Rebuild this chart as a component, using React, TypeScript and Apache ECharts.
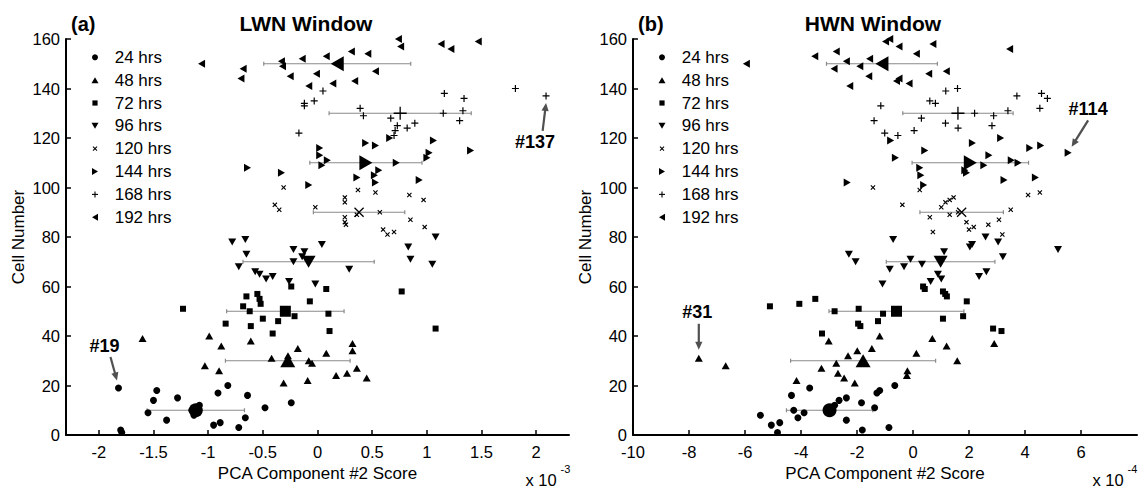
import React, { useEffect, useRef } from "react";
import * as echarts from "echarts";

// Time points; each group holds 20 consecutive cells (1-20, 21-40, ... 141-160)
const groupNames = ["24 hrs", "48 hrs", "72 hrs", "96 hrs", "120 hrs", "144 hrs", "168 hrs", "192 hrs"];
const cellsPerGroup = 20;

// LWN window: PCA component #2 score (x 10^-3), listed by cell number within each group
const lwn24 = [-1.79, -1.8, -0.72, -0.95, -0.89, -1.38, -0.66, -1.13, -1.55, -1.15, -0.48, -1.08, -0.24, -1.5, -1.28, -0.64, -0.91, -1.47, -1.82, -0.82];
const lwn48 = [-0.31, -0.09, 0.45, 0.17, 0.27, -0.9, 0.36, -1.03, -0.05, -0.08, -0.42, -0.27, 0.08, 0.32, -0.18, -0.88, 0.32, -0.61, -1.6, -0.99];
const lwn72 = [-0.41, 0.11, 1.08, -0.61, -0.84, -0.36, -0.5, -0.21, 0.1, -0.62, -1.23, -0.68, -0.52, -0.07, -0.53, -0.65, -0.55, 0.77, 0.08, -0.24];
const lwn96 = [-0.02, -0.26, -0.47, -0.41, -0.53, -0.57, 0.29, -0.72, 1.05, -0.22, 0.85, -0.14, -0.65, -0.12, -0.22, 0.83, 0.04, -0.78, -0.66, 1.08];
const lwn120 = [0.64, 0.7, 0.6, 0.98, 0.26, 0.25, 0.85, 0.25, 0.36, 0.57, -0.35, -0.02, -0.39, 0.25, 0.97, 0.25, 0.84, 0.53, 0.37, -0.31];
const lwn144 = [-0.08, 0.53, 0.93, 0.36, 0.52, -0.33, 0.56, -0.64, 0.04, 0.72, 0.09, 1.0, 0.02, 1.02, 1.4, 0.02, 0.53, 0.44, 1.06, 0.66];
const lwn168 = [0.7, -0.17, 0.71, 0.82, 0.73, 0.89, 1.3, 0.67, 0.42, 1.15, 1.33, 0.39, -0.12, -0.12, -0.03, 1.34, 2.09, 1.16, 0.05, 1.81];
const lwn192 = [-0.08, 0.14, 0.34, -0.7, -0.25, -0.01, 0.53, -0.68, -0.32, -1.06, -0.33, -0.14, 0.08, 0.46, 0.31, 1.22, 0.76, 1.13, 1.47, 0.74];
// Half-width of the horizontal bar around each group mean
const lwnSpread = [0.445, 0.57, 0.537, 0.6, 0.418, 0.513, 0.65, 0.672];

// HWN window: PCA component #2 score (x 10^-4)
const hwn24 = [-4.84, -1.81, -0.86, -5.06, -4.76, -2.38, -4.11, -5.45, -3.89, -4.26, -1.37, -2.8, -1.84, -2.64, -2.38, -4.34, -1.29, -1.19, -3.69, -0.65];
const hwn48 = [-2.08, -4.16, -2.46, -0.22, -2.68, -0.2, -3.27, -6.69, -2.74, 1.58, -7.65, -2.32, 0.12, -1.99, -1.47, 1.2, 2.9, -3.01, 0.69, -1.19];
const hwn72 = [-3.25, 3.16, 2.86, -1.88, -1.96, -1.25, 1.07, 1.79, -1.07, -2.8, -1.94, -5.11, -4.06, 1.92, -3.49, 1.21, 1.15, 1.07, 0.42, 0.36];
const hwn96 = [-1.09, 0.63, 1.01, 2.36, 0.89, 2.62, -0.83, -0.32, 0.32, -2.05, -0.09, 3.21, -2.29, 1.11, 5.18, 2.03, 2.11, 3.04, -0.71, 2.59];
const hwn120 = [3.19, 0.71, 2.0, 2.17, 2.69, 1.91, 3.07, 0.6, 1.31, 1.61, 3.49, 1.01, -0.38, 1.16, 1.31, 1.45, 4.11, 4.53, 0.24, -1.43];
const hwn144 = [0.38, -2.35, 3.25, 4.37, 0.28, 1.91, 1.85, 0.24, 2.53, 3.75, 3.51, -0.63, 2.71, 5.54, 0.42, 4.17, 4.56, 2.12, -0.8, 3.13];
const hwn168 = [-0.54, -1.01, 0.04, 1.61, 2.82, 1.16, -1.39, 0.3, 2.88, 2.2, 3.39, 4.53, -1.15, 0.8, 0.6, 4.8, 3.71, 4.59, 1.17, 1.59];
const hwn192 = [-2.26, -0.14, -0.59, -0.5, -1.58, 0.56, 1.19, -2.82, -1.9, -5.95, -2.38, -1.55, -3.51, 0.12, -2.74, 3.45, -0.5, 0.71, -0.98, -0.83];
const hwnSpread = [1.54, 2.59, 2.41, 1.94, 1.49, 2.08, 1.97, 1.98];

const lwnTicks = [-2, -1.5, -1, -0.5, 0, 0.5, 1, 1.5, 2];
const hwnTicks = [-10, -8, -6, -4, -2, 0, 2, 4, 6];
const cellTicks = [0, 20, 40, 60, 80, 100, 120, 140, 160];

// Highlighted outlier cells
const lwnNotes = [19, 137];
const hwnNotes = [31, 114];

const FONT = '"Liberation Sans", Arial, Helvetica, sans-serif';
const INK = "#000";

const plusPath = (t: number) => {
  const a = 0.5 - t / 2;
  const b = 0.5 + t / 2;
  return `path://M${a},0H${b}V${a}H1V${b}H${b}V1H${a}V${b}H0V${a}H${a}Z`;
};
const crossPath = (d: number) =>
  `path://M0,${d}L${d},0L0.5,${0.5 - d}L${1 - d},0L1,${d}L${0.5 + d},0.5L1,${1 - d}L${1 - d},1L0.5,${0.5 + d}L${d},1L0,${1 - d}L${0.5 - d},0.5Z`;
const downTri = "path://M0,0L2,0L1,1.8Z";
const rightTri = "path://M0,0L1.8,1L0,2Z";
const leftTri = "path://M1.8,0L0,1L1.8,2Z";

const markers: { symbol: string; size: any; meanSymbol: string; meanSize: any }[] = [
  { symbol: "circle", size: 7, meanSymbol: "circle", meanSize: 14 },
  { symbol: "triangle", size: [8, 7], meanSymbol: "triangle", meanSize: [15, 13] },
  { symbol: "rect", size: 6, meanSymbol: "rect", meanSize: 11 },
  { symbol: downTri, size: [8, 7], meanSymbol: downTri, meanSize: [14, 12] },
  { symbol: crossPath(0.16), size: 5, meanSymbol: crossPath(0.09), meanSize: 10 },
  { symbol: rightTri, size: [7, 8], meanSymbol: rightTri, meanSize: [13, 15] },
  { symbol: plusPath(0.17), size: 7, meanSymbol: plusPath(0.1), meanSize: 13 },
  { symbol: leftTri, size: [7, 8], meanSymbol: leftTri, meanSize: [13, 15] },
];

const panels = [
  {
    tag: "(a)",
    title: "LWN Window",
    groups: [lwn24, lwn48, lwn72, lwn96, lwn120, lwn144, lwn168, lwn192],
    spread: lwnSpread,
    min: -2.3,
    max: 2.3,
    ticks: lwnTicks,
    exponent: "-3",
    notes: lwnNotes,
  },
  {
    tag: "(b)",
    title: "HWN Window",
    groups: [hwn24, hwn48, hwn72, hwn96, hwn120, hwn144, hwn168, hwn192],
    spread: hwnSpread,
    min: -10,
    max: 8,
    ticks: hwnTicks,
    exponent: "-4",
    notes: hwnNotes,
  },
];

const gridRects = [
  { left: 66, top: 39, width: 503, height: 396 },
  { left: 633, top: 39, width: 504, height: 396 },
];

// Label / arrow placement relative to the highlighted point, per panel
const noteLayout: Record<number, { label: [number, number]; from: [number, number]; to: [number, number] }> = {
  19: { label: [-14, -42], from: [-8, -31], to: [-1.5, -7.5] },
  137: { label: [-11, 46], from: [-3.4, 35], to: [0, 7] },
  31: { label: [-1.5, -46], from: [0, -34.5], to: [0, -8.5] },
  114: { label: [20, -44], from: [20, -32.5], to: [3.5, -6] },
};

const mean = (a: number[]) => a.reduce((s, v) => s + v, 0) / a.length;
const cellOf = (g: number, i: number) => g * cellsPerGroup + i + 1;
const centerCell = (g: number) => g * cellsPerGroup + cellsPerGroup / 2;

const errorBarItem = (_params: any, api: any) => {
  const m = api.value(0);
  const c = api.value(1);
  const s = api.value(2);
  const a = api.coord([m - s, c]);
  const b = api.coord([m + s, c]);
  const st = { stroke: "#8a8a8a", lineWidth: 1.2 };
  return {
    type: "group",
    children: [
      { type: "line", shape: { x1: a[0], y1: a[1], x2: b[0], y2: b[1] }, style: st },
      { type: "line", shape: { x1: a[0], y1: a[1] - 2, x2: a[0], y2: a[1] + 2 }, style: st },
      { type: "line", shape: { x1: b[0], y1: b[1] - 2, x2: b[0], y2: b[1] + 2 }, style: st },
    ],
  };
};

function buildOption() {
  const series: any[] = [];
  panels.forEach((p, pi) => {
    series.push({
      type: "custom",
      xAxisIndex: pi,
      yAxisIndex: pi,
      silent: true,
      z: 2,
      renderItem: errorBarItem,
      encode: { x: 0, y: 1 },
      data: p.groups.map((vals, g) => [mean(vals), centerCell(g), p.spread[g]]),
    });
    p.groups.forEach((vals, g) => {
      const mk = markers[g];
      series.push({
        type: "scatter",
        name: groupNames[g],
        xAxisIndex: pi,
        yAxisIndex: pi,
        symbol: mk.symbol,
        symbolSize: mk.size,
        itemStyle: { color: INK, opacity: 1 },
        z: 3,
        data: vals.map((v, i) => [v, cellOf(g, i)]),
      });
      series.push({
        type: "scatter",
        name: groupNames[g] + " mean",
        xAxisIndex: pi,
        yAxisIndex: pi,
        symbol: mk.meanSymbol,
        symbolSize: mk.meanSize,
        itemStyle: { color: INK, opacity: 1 },
        z: 4,
        data: [[mean(vals), centerCell(g)]],
      });
    });
  });

  return {
    animation: false,
    backgroundColor: "#fff",
    textStyle: { fontFamily: FONT, color: INK },
    grid: gridRects.map((r) => ({ ...r, containLabel: false })),
    xAxis: panels.map((p, pi) => ({
      type: "value",
      gridIndex: pi,
      min: p.min,
      max: p.max,
      name: "PCA Component #2 Score",
      nameLocation: "middle",
      nameGap: 29,
      nameTextStyle: { fontSize: 17, color: INK, fontFamily: FONT },
      axisLine: { show: true, onZero: false, lineStyle: { color: INK, width: 2 } },
      axisTick: { show: true, inside: true, length: 5, customValues: p.ticks, lineStyle: { color: INK, width: 1.5 } },
      axisLabel: { customValues: p.ticks, fontSize: 16.5, color: INK, margin: 8, fontFamily: FONT },
      splitLine: { show: false },
    })),
    yAxis: panels.map((_p, pi) => ({
      type: "value",
      gridIndex: pi,
      min: 0,
      max: 160,
      name: "Cell Number",
      nameLocation: "middle",
      nameGap: 39,
      nameTextStyle: { fontSize: 17, color: INK, fontFamily: FONT },
      axisLine: { show: true, onZero: false, lineStyle: { color: INK, width: 2 } },
      axisTick: { show: true, inside: true, length: 5, customValues: cellTicks, lineStyle: { color: INK, width: 1.5 } },
      axisLabel: { customValues: cellTicks, fontSize: 16.5, color: INK, margin: 6, fontFamily: FONT },
      splitLine: { show: false },
    })),
    series,
  };
}

function legendIcon(kind: number, x: number, y: number): any {
  const fill = { fill: INK };
  const stroke = { stroke: INK, lineWidth: 1.1 };
  switch (kind) {
    case 0:
      return { type: "circle", shape: { cx: x, cy: y, r: 3 }, style: fill };
    case 1:
      return { type: "polygon", shape: { points: [[x - 3.5, y + 3], [x + 3.5, y + 3], [x, y - 3]] }, style: fill };
    case 2:
      return { type: "rect", shape: { x: x - 2.6, y: y - 2.6, width: 5.2, height: 5.2 }, style: fill };
    case 3:
      return { type: "polygon", shape: { points: [[x - 3.5, y - 3], [x + 3.5, y - 3], [x, y + 3]] }, style: fill };
    case 4:
      return {
        type: "group",
        children: [
          { type: "line", shape: { x1: x - 2, y1: y - 2, x2: x + 2, y2: y + 2 }, style: stroke },
          { type: "line", shape: { x1: x - 2, y1: y + 2, x2: x + 2, y2: y - 2 }, style: stroke },
        ],
      };
    case 5:
      return { type: "polygon", shape: { points: [[x - 3, y - 3.5], [x + 3, y], [x - 3, y + 3.5]] }, style: fill };
    case 6:
      return {
        type: "group",
        children: [
          { type: "line", shape: { x1: x - 3, y1: y, x2: x + 3, y2: y }, style: stroke },
          { type: "line", shape: { x1: x, y1: y - 3, x2: x, y2: y + 3 }, style: stroke },
        ],
      };
    default:
      return { type: "polygon", shape: { points: [[x + 3, y - 3.5], [x - 3, y], [x + 3, y + 3.5]] }, style: fill };
  }
}

function textEl(text: string, x: number, y: number, font: string, align = "left", fill = INK): any {
  return {
    type: "text",
    x,
    y,
    silent: true,
    style: { text, font, fill, align, textAlign: align, verticalAlign: "middle", textVerticalAlign: "middle" },
  };
}

function arrowEl(x1: number, y1: number, x2: number, y2: number): any {
  const dx = x2 - x1;
  const dy = y2 - y1;
  const len = Math.hypot(dx, dy);
  const ux = dx / len;
  const uy = dy / len;
  const head = 8;
  const half = 3.6;
  const bx = x2 - ux * head;
  const by = y2 - uy * head;
  const color = "#505050";
  return {
    type: "group",
    silent: true,
    children: [
      { type: "line", shape: { x1, y1, x2: bx + ux, y2: by + uy }, style: { stroke: color, lineWidth: 2.2 } },
      {
        type: "polygon",
        shape: { points: [[x2, y2], [bx - uy * half, by + ux * half], [bx + uy * half, by - ux * half]] },
        style: { fill: color },
      },
    ],
  };
}

function buildGraphics(chart: echarts.ECharts) {
  const els: any[] = [];
  panels.forEach((p, pi) => {
    const r = gridRects[pi];
    els.push(textEl(p.tag, r.left + 5, 24, `bold 20px ${FONT}`));
    els.push(textEl(p.title, r.left + 240, 23, `bold 21px ${FONT}`, "center"));
    groupNames.forEach((name, g) => {
      const y = 57.3 + g * 22.85;
      els.push(legendIcon(g, r.left + 29, y));
      els.push(textEl(name, r.left + 48.7, y, `17px ${FONT}`));
    });
    els.push(textEl("x 10", r.left + 459.5, 479.5, `16.5px ${FONT}`));
    els.push(textEl(p.exponent, r.left + 494.5, 468.5, `11px ${FONT}`));
    p.notes.forEach((cell) => {
      const g = Math.floor((cell - 1) / cellsPerGroup);
      const v = p.groups[g][(cell - 1) % cellsPerGroup];
      const pt = chart.convertToPixel({ gridIndex: pi }, [v, cell]) as number[];
      const lay = noteLayout[cell];
      els.push(textEl("#" + cell, pt[0] + lay.label[0], pt[1] + lay.label[1], `bold 18px ${FONT}`, "center"));
      els.push(arrowEl(pt[0] + lay.from[0], pt[1] + lay.from[1], pt[0] + lay.to[0], pt[1] + lay.to[1]));
    });
  });
  return els;
}

export default function App() {
  const ref = useRef<HTMLDivElement>(null);
  useEffect(() => {
    document.body.style.margin = "0";
    const chart = echarts.init(ref.current!, null, { renderer: "svg" });
    chart.setOption(buildOption() as any);
    chart.setOption({ graphic: buildGraphics(chart) } as any);
    return () => chart.dispose();
  }, []);
  return <div ref={ref} style={{ width: 1139, height: 487 }} />;
}
